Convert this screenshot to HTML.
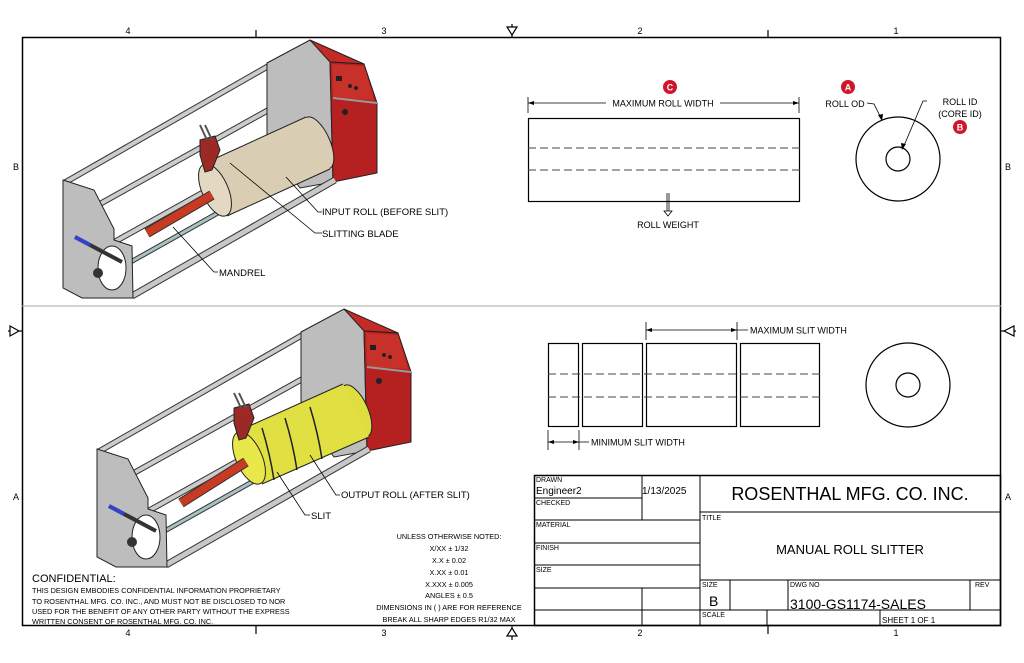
<!DOCTYPE html>
<html><head><meta charset="utf-8"><style>
html,body{margin:0;padding:0;background:#fff;}
svg{display:block;font-family:"Liberation Sans","DejaVu Sans",sans-serif;}
</style></head><body>
<svg width="1024" height="663" viewBox="0 0 1024 663" xmlns="http://www.w3.org/2000/svg">
<defs>
<g id="mach">
  <line x1="64" y1="183" x2="272" y2="64" stroke="#333" stroke-width="6"/>
  <line x1="64" y1="183" x2="272" y2="64" stroke="#ccc" stroke-width="4"/>
  <line x1="98" y1="205" x2="272" y2="108" stroke="#333" stroke-width="6"/>
  <line x1="98" y1="205" x2="272" y2="108" stroke="#ccc" stroke-width="4"/>
  <polygon points="267,63 310,40 330,60 333,182 300,188 283,165 267,150" fill="#bdbdbd" stroke="#222" stroke-width="1"/>
  <polygon points="310,40 364,64 330,62" fill="#c42a26" stroke="#222" stroke-width="1"/>
  <polygon points="330,62 364,64 377,103 377,173 333,182" fill="#b52020" stroke="#222" stroke-width="1"/>
  <polygon points="332,64 364,66 374,100 333,98" fill="#c8302a"/>
  <line x1="333" y1="98" x2="377" y2="103" stroke="#999" stroke-width="2"/>
  <rect x="336" y="76" width="6" height="5" fill="#222"/>
  <circle cx="350" cy="86" r="2" fill="#222"/><circle cx="356" cy="88" r="2" fill="#222"/>
  <circle cx="345" cy="112" r="3" fill="#222"/>
  <line x1="120" y1="268" x2="330" y2="150" stroke="#333" stroke-width="5"/>
  <line x1="120" y1="268" x2="330" y2="150" stroke="#a9c0c0" stroke-width="3"/>
  <line x1="132" y1="296" x2="335" y2="180" stroke="#333" stroke-width="7"/>
  <line x1="132" y1="296" x2="335" y2="180" stroke="#c8c8c8" stroke-width="5"/>
  <line x1="100" y1="250" x2="270" y2="155" stroke="#333" stroke-width="6"/>
  <line x1="100" y1="250" x2="270" y2="155" stroke="#ccc" stroke-width="4"/>
  <polygon points="63,180 94,190 114,229 114,240 132,246 133,298 82,298 63,288" fill="#bdbdbd" stroke="#222" stroke-width="1"/>
  <ellipse cx="112" cy="268" rx="14" ry="22" fill="#fff" stroke="#222"/>
  <circle cx="98" cy="273" r="5" fill="#333"/>
  <line x1="75" y1="237" x2="122" y2="262" stroke="#333" stroke-width="4"/>
  <line x1="75" y1="237" x2="90" y2="245" stroke="#3344cc" stroke-width="4"/>
</g>
</defs>

<rect x="22.5" y="37.5" width="978" height="588" fill="none" stroke="#000" stroke-width="1.5"/>
<line x1="22" y1="306" x2="1001" y2="306" stroke="#aaa" stroke-width="1"/>
<g stroke="#000" stroke-width="1.2">
<line x1="256" y1="30" x2="256" y2="37"/><line x1="768" y1="30" x2="768" y2="37"/>
<line x1="256" y1="626" x2="256" y2="634"/><line x1="768" y1="626" x2="768" y2="634"/>
<line x1="512" y1="24" x2="512" y2="37"/><polygon points="507,27 517,27 512,35" fill="#fff"/>
<line x1="512" y1="626" x2="512" y2="640"/><polygon points="507,636 517,636 512,628" fill="#fff"/>
<line x1="8" y1="331" x2="22" y2="331"/><polygon points="10,326 10,336 19,331" fill="#fff"/>
<line x1="1001" y1="331" x2="1016" y2="331"/><polygon points="1014,326 1014,336 1004,331" fill="#fff"/>
</g>
<g font-size="9" fill="#000" text-anchor="middle">
<text x="128" y="34">4</text><text x="384" y="34">3</text><text x="640" y="34">2</text><text x="896" y="34">1</text>
<text x="128" y="636">4</text><text x="384" y="636">3</text><text x="640" y="636">2</text><text x="896" y="636">1</text>
<text x="16" y="170">B</text><text x="16" y="500">A</text><text x="1008" y="170">B</text><text x="1008" y="500">A</text>
</g>

<use href="#mach"/>
<ellipse cx="318" cy="143" rx="12" ry="28" transform="rotate(-24 318 143)" fill="#d9ceb4" stroke="#222"/>
<polygon points="203,164 306,117 330,169 227,216" fill="#d9ceb4" stroke="none"/>
<line x1="203" y1="164" x2="306" y2="117" stroke="#222"/>
<line x1="227" y1="216" x2="330" y2="169" stroke="#222"/>
<ellipse cx="215" cy="190" rx="13" ry="28" transform="rotate(-24 215 190)" fill="#e3d9c2" stroke="#222"/>
<line x1="147" y1="233" x2="212" y2="195" stroke="#333" stroke-width="10"/>
<line x1="147" y1="233" x2="212" y2="195" stroke="#c83a22" stroke-width="8"/>
<polygon points="200,140 215,136 220,150 212,170 205,172 200,155" fill="#9b2a26" stroke="#222"/>
<line x1="200" y1="125" x2="207" y2="140" stroke="#555" stroke-width="2"/>
<line x1="205" y1="125" x2="212" y2="140" stroke="#555" stroke-width="2"/>

<g transform="translate(34,269)"><use href="#mach"/></g>
<ellipse cx="356" cy="411" rx="12" ry="28" transform="rotate(-24 356 411)" fill="#dede40" stroke="#222"/>
<polygon points="236,432 343,384 369,437 262,484" fill="#e1e043" stroke="none"/>
<line x1="236" y1="432" x2="343" y2="384" stroke="#222"/>
<line x1="262" y1="484" x2="369" y2="437" stroke="#222"/>
<g stroke="#222" stroke-width="1.5" fill="none">
<path d="M262,428 q8,26 12,52"/><path d="M285,418 q8,26 12,52"/><path d="M310,407 q8,26 12,52"/>
</g>
<ellipse cx="249" cy="458" rx="13" ry="28" transform="rotate(-24 249 458)" fill="#e8e84a" stroke="#222"/>
<line x1="181" y1="503" x2="246" y2="462" stroke="#333" stroke-width="10"/>
<line x1="181" y1="503" x2="246" y2="462" stroke="#c83a22" stroke-width="8"/>
<polygon points="234,408 249,404 254,418 246,438 239,440 234,423" fill="#9b2a26" stroke="#222"/>
<line x1="234" y1="393" x2="241" y2="408" stroke="#555" stroke-width="2"/>
<line x1="239" y1="393" x2="246" y2="408" stroke="#555" stroke-width="2"/>

<g stroke="#000" stroke-width="0.8" fill="none">
<polyline points="286,177 318,212 322,212"/>
<polyline points="230,163 315,233 322,233"/>
<polyline points="173,227 214,272 218,272"/>
<polyline points="310,455 336,495 340,495"/>
<polyline points="277,472 305,515 310,515"/>
</g>
<g font-size="9.5" fill="#000">
<text x="322" y="215">INPUT ROLL (BEFORE SLIT)</text>
<text x="322" y="237">SLITTING BLADE</text>
<text x="219" y="276">MANDREL</text>
<text x="341" y="498">OUTPUT ROLL (AFTER SLIT)</text>
<text x="311" y="519">SLIT</text>
</g>

<g stroke="#000" fill="none">
<rect x="528.5" y="118.5" width="271" height="83" stroke-width="1.2"/>
<line x1="528" y1="148" x2="800" y2="148" stroke-dasharray="8,4" stroke="#444"/>
<line x1="528" y1="170" x2="800" y2="170" stroke-dasharray="8,4" stroke="#444"/>
<line x1="528" y1="97" x2="528" y2="113" stroke-width="0.8"/><line x1="799" y1="97" x2="799" y2="113" stroke-width="0.8"/>
<line x1="528" y1="103" x2="606" y2="103" stroke-width="0.8"/><line x1="720" y1="103" x2="799" y2="103" stroke-width="0.8"/>
<line x1="667" y1="193" x2="667" y2="211" stroke-width="0.8"/><line x1="669" y1="193" x2="669" y2="211" stroke-width="0.8"/>
<polygon points="664,211 672,211 668,216" stroke-width="0.8"/>
<circle cx="898" cy="159" r="42" stroke-width="1.2"/><circle cx="898" cy="159" r="12" stroke-width="1.2"/>
<polyline points="867,103 874,104 882,120" stroke-width="0.8"/>
<polyline points="927,101 923,101 903,148" stroke-width="0.8"/>
</g>
<polygon points="528,103 534,101 534,105"/><polygon points="799,103 793,101 793,105"/>
<polygon points="882,121 878,115 883,114"/><polygon points="902,150 901,143 906,144"/>
<g font-size="9" fill="#000">
<text x="663" y="106.5" text-anchor="middle">MAXIMUM ROLL WIDTH</text>
<text x="668" y="228" text-anchor="middle">ROLL WEIGHT</text>
<text x="845" y="107" text-anchor="middle">ROLL OD</text>
<text x="960" y="105" text-anchor="middle">ROLL ID</text>
<text x="960" y="117" text-anchor="middle">(CORE ID)</text>
</g>
<g font-size="9" font-weight="bold" fill="#fff" text-anchor="middle">
<circle cx="670" cy="87" r="7" fill="#d0142c"/><text x="670" y="90.5">C</text>
<circle cx="848" cy="87" r="7" fill="#d0142c"/><text x="848" y="90.5">A</text>
<circle cx="960" cy="127" r="7" fill="#d0142c"/><text x="960" y="130.5">B</text>
</g>

<g stroke="#000" fill="none" stroke-width="1.2">
<rect x="548.5" y="343.5" width="30" height="83"/>
<rect x="582.5" y="343.5" width="60" height="83"/>
<rect x="646.5" y="343.5" width="90" height="83"/>
<rect x="740.5" y="343.5" width="79" height="83"/>
<g stroke="#444" stroke-width="1" stroke-dasharray="8,4">
<line x1="548" y1="374" x2="820" y2="374"/><line x1="548" y1="397" x2="820" y2="397"/>
</g>
<g stroke-width="0.8">
<line x1="646" y1="322" x2="646" y2="340"/><line x1="737" y1="322" x2="737" y2="340"/>
<line x1="646" y1="330" x2="748" y2="330"/>
<line x1="548" y1="430" x2="548" y2="450"/><line x1="579" y1="430" x2="579" y2="450"/>
<line x1="548" y1="442" x2="589" y2="442"/>
</g>
<circle cx="908" cy="385" r="42"/><circle cx="908" cy="385" r="12"/>
</g>
<polygon points="646,330 652,328 652,332"/><polygon points="737,330 731,328 731,332"/>
<polygon points="548,442 554,440 554,444"/><polygon points="579,442 573,440 573,444"/>
<g font-size="9" fill="#000">
<text x="750" y="333.5">MAXIMUM SLIT WIDTH</text>
<text x="591" y="445.5">MINIMUM SLIT WIDTH</text>
</g>

<text x="32" y="582" font-size="11">CONFIDENTIAL:</text>
<g font-size="7.3" fill="#000">
<text x="32" y="593">THIS DESIGN EMBODIES CONFIDENTIAL INFORMATION PROPRIETARY</text>
<text x="32" y="604">TO ROSENTHAL MFG. CO. INC., AND MUST NOT BE DISCLOSED TO NOR</text>
<text x="32" y="614">USED FOR THE BENEFIT OF ANY OTHER PARTY WITHOUT THE EXPRESS</text>
<text x="32" y="624">WRITTEN CONSENT OF ROSENTHAL MFG. CO. INC.</text>
</g>
<g font-size="7.3" fill="#000" text-anchor="middle">
<text x="449" y="539">UNLESS OTHERWISE NOTED:</text>
<text x="449" y="551">X/XX ± 1/32</text>
<text x="449" y="563">X.X ± 0.02</text>
<text x="449" y="575">X.XX ± 0.01</text>
<text x="449" y="587">X.XXX ± 0.005</text>
<text x="449" y="598">ANGLES ± 0.5</text>
<text x="449" y="610">DIMENSIONS IN ( ) ARE FOR REFERENCE</text>
<text x="449" y="622">BREAK ALL SHARP EDGES R1/32 MAX</text>
</g>

<g stroke="#000" stroke-width="1" fill="none">
<rect x="534.5" y="475.5" width="466" height="150" stroke-width="1.5"/>
<line x1="700" y1="475" x2="700" y2="626"/>
<line x1="642" y1="475" x2="642" y2="520"/><line x1="642" y1="588" x2="642" y2="626"/>
<line x1="534" y1="498" x2="642" y2="498"/>
<line x1="534" y1="520" x2="700" y2="520"/>
<line x1="534" y1="543" x2="700" y2="543"/>
<line x1="534" y1="565" x2="700" y2="565"/>
<line x1="534" y1="588" x2="700" y2="588"/>
<line x1="534" y1="610" x2="1001" y2="610"/>
<line x1="700" y1="512" x2="1001" y2="512"/>
<line x1="700" y1="580" x2="1001" y2="580"/>
<line x1="730" y1="580" x2="730" y2="610"/>
<line x1="788" y1="580" x2="788" y2="610"/>
<line x1="970" y1="580" x2="970" y2="610"/>
<line x1="767" y1="610" x2="767" y2="626"/>
<line x1="880" y1="610" x2="880" y2="626"/>
</g>
<g fill="#000">
<text x="536" y="482" font-size="7">DRAWN</text>
<text x="536" y="494" font-size="10">Engineer2</text>
<text x="642" y="494" font-size="10">1/13/2025</text>
<text x="536" y="505" font-size="7">CHECKED</text>
<text x="536" y="527" font-size="7">MATERIAL</text>
<text x="536" y="550" font-size="7">FINISH</text>
<text x="536" y="572" font-size="7">SIZE</text>
<text x="850" y="500" font-size="18" text-anchor="middle">ROSENTHAL MFG. CO. INC.</text>
<text x="702" y="520" font-size="7">TITLE</text>
<text x="850" y="554" font-size="13" text-anchor="middle">MANUAL ROLL SLITTER</text>
<text x="702" y="587" font-size="7">SIZE</text>
<text x="709" y="606" font-size="14">B</text>
<text x="790" y="587" font-size="7">DWG NO</text>
<text x="790" y="609" font-size="14">3100-GS1174-SALES</text>
<text x="975" y="587" font-size="7">REV</text>
<text x="702" y="617" font-size="7">SCALE</text>
<text x="882" y="623" font-size="8">SHEET 1  OF 1</text>
</g>
</svg>
</body></html>
